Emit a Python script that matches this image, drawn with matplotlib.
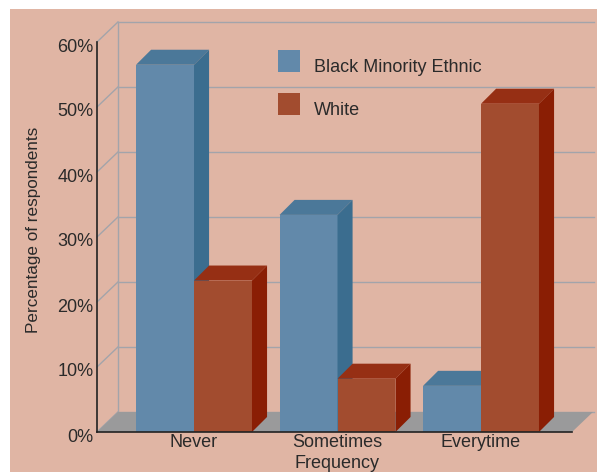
import matplotlib.pyplot as plt
import matplotlib.transforms as mtransforms
import numpy as np
from matplotlib.patches import Polygon, Rectangle

plt.rcParams["font.family"] = ["Liberation Sans", "DejaVu Sans"]

categories = ["Never", "Sometimes", "Everytime"]
series_names = ["Black Minority Ethnic", "White"]
bme_values = [56.5, 33.4, 7.1]
white_values = [23.3, 8.2, 50.5]
y_ticks = [0, 10, 20, 30, 40, 50, 60]
y_tick_labels = ["0%", "10%", "20%", "30%", "40%", "50%", "60%"]

bg_color = "#e0b5a4"
text_color = "#2a2a2a"
grid_color = "#a3a4aa"
floor_color = "#9a9a9b"
# front, top, side shades per series
bar_shades = [
    ("#6289aa", "#4b7899", "#3b6d8f"),
    ("#a24c2f", "#962f14", "#8a1e04"),
]

# pseudo-3d geometry in data units
x_lo, x_hi = -0.676, 2.634
y_lo, y_hi = 0, 60
wall_dx, wall_dy = 0.146, 3.08
bar_dx, bar_dy = 0.105, 2.31
bar_w = 0.404


def draw_bar(ax, x0, value, shades):
    front, top, side = shades
    x1 = x0 + bar_w
    ax.add_patch(Rectangle((x0, 0), bar_w, value, facecolor=front,
                           edgecolor="none", zorder=3, clip_on=False))
    ax.add_patch(Polygon([(x0, value), (x1, value), (x1 + bar_dx, value + bar_dy),
                          (x0 + bar_dx, value + bar_dy)],
                         facecolor=top, edgecolor="none", zorder=3, clip_on=False))
    ax.add_patch(Polygon([(x1, 0), (x1 + bar_dx, bar_dy), (x1 + bar_dx, value + bar_dy),
                          (x1, value)],
                         facecolor=side, edgecolor="none", zorder=3, clip_on=False))


fig = plt.figure(figsize=(5.97, 4.72), dpi=100, facecolor="white")
fig.patches.append(Rectangle((10 / 597, 0), 1, 1 - 9 / 472, transform=fig.transFigure,
                             facecolor=bg_color, edgecolor="none", zorder=-10))

ax = fig.add_axes([97 / 597, 40 / 472, 475 / 597, 390 / 472])
ax.set_facecolor("none")
ax.set_xlim(x_lo, x_hi)
ax.set_ylim(y_lo, y_hi)

# back wall grid and left side diagonals
for t in y_ticks:
    ax.plot([x_lo + wall_dx, x_hi + wall_dx + 0.01], [t + wall_dy, t + wall_dy],
            color=grid_color, lw=1.0, zorder=1, clip_on=False)
    ax.plot([x_lo, x_lo + wall_dx], [t, t + wall_dy],
            color=grid_color, lw=1.0, zorder=1, clip_on=False)
ax.plot([x_lo + wall_dx, x_lo + wall_dx], [wall_dy, y_hi + wall_dy],
        color=grid_color, lw=1.0, zorder=1, clip_on=False)

# floor
ax.add_patch(Polygon([(x_lo, 0), (x_hi, 0), (x_hi + wall_dx, wall_dy),
                      (x_lo + wall_dx, wall_dy)],
                     facecolor=floor_color, edgecolor="none", zorder=2, clip_on=False))

x = np.arange(len(categories))
for i in x:
    draw_bar(ax, i - bar_w, bme_values[i], bar_shades[0])
    draw_bar(ax, i, white_values[i], bar_shades[1])

for side in ["top", "right"]:
    ax.spines[side].set_visible(False)
for side in ["left", "bottom"]:
    ax.spines[side].set_color("#222222")
    ax.spines[side].set_linewidth(1.2)
    ax.spines[side].set_zorder(5)

ax.set_yticks(y_ticks)
ax.set_yticklabels(y_tick_labels)
ax.set_xticks(x)
ax.set_xticklabels(categories)
ax.tick_params(axis="both", length=0, labelsize=13, colors=text_color)
ax.tick_params(axis="y", pad=2.5)
ax.tick_params(axis="x", pad=1.5)

# nudge the percentage labels down a little
shift = mtransforms.ScaledTranslation(0, -3 / 100, fig.dpi_scale_trans)
for label in ax.get_yticklabels():
    label.set_transform(label.get_transform() + shift)

ax.set_xlabel("Frequency", fontsize=13, color=text_color)
ax.xaxis.set_label_coords(0.505, -0.06)
fig.text(34 / 597, 1 - 230 / 472, "Percentage of respondents", rotation=90,
         ha="center", va="center", fontsize=12.3, color=text_color)

# legend: swatches with labels sitting on the swatch baseline
swatch = 22
for k, name in enumerate(series_names):
    top_px = 50 + 43 * k
    fig.patches.append(Rectangle((278 / 597, 1 - (top_px + swatch) / 472),
                                 swatch / 597, swatch / 472, transform=fig.transFigure,
                                 facecolor=bar_shades[k][0], edgecolor="none"))
    fig.text(314 / 597, 1 - (top_px + swatch) / 472, name, ha="left", va="baseline",
             fontsize=13, color=text_color)

fig.savefig("out.png", dpi=100, facecolor=fig.get_facecolor())
